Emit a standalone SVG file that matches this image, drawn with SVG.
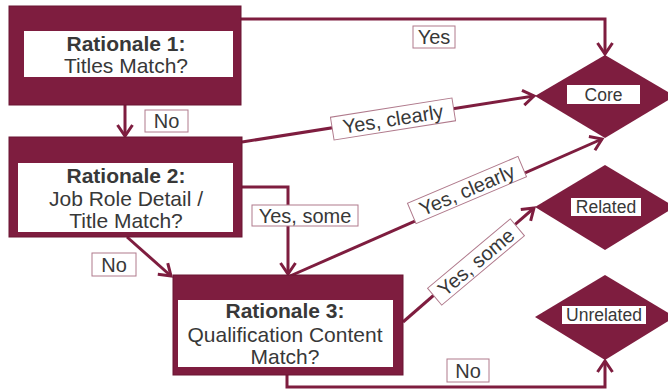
<svg xmlns="http://www.w3.org/2000/svg" width="668" height="391" viewBox="0 0 668 391">
<style>
.outer{fill:#7e1d3f;stroke:#6a1533;stroke-width:1}
.inner{fill:#ffffff}
.dia{fill:#7e1d3f}
.t{font-family:"Liberation Sans",Arial,sans-serif;fill:#383838;text-anchor:middle}
.b{font-weight:bold}
.node{font-size:21px}
.lbl{fill:#ffffff;stroke:#b07a8c;stroke-width:1}
.lt{font-size:20px}
.dt{font-size:17.5px}
.c{fill:none;stroke:#7e1d3f;stroke-width:3}
</style>
<defs>
<marker id="ah" markerUnits="userSpaceOnUse" viewBox="-12 -9 14 18" refX="0" refY="0" markerWidth="14" markerHeight="18" orient="auto" overflow="visible">
<path d="M-11,-7.5 L0,0 L-11,7.5" fill="none" stroke="#7e1d3f" stroke-width="3"/>
</marker>
</defs>
<rect width="668" height="391" fill="#ffffff"/>
<g id="connectors">
<polyline class="c" points="241,19 605,19 605,54" marker-end="url(#ah)"/>
<line class="c" x1="125" y1="105" x2="125" y2="136" marker-end="url(#ah)"/>
<line class="c" x1="242" y1="142" x2="534" y2="96" marker-end="url(#ah)"/>
<polyline class="c" points="242,187 288,187 288,274" marker-end="url(#ah)"/>
<line class="c" x1="127" y1="237" x2="171" y2="276" marker-end="url(#ah)"/>
<line class="c" x1="290" y1="276" x2="602" y2="139" marker-end="url(#ah)"/>
<line class="c" x1="403" y1="322" x2="534" y2="208" marker-end="url(#ah)"/>
<polyline class="c" points="287,375 287,387 605,387 605,361" marker-end="url(#ah)"/>
<g id="label-no1"><rect class="lbl" x="145" y="110" width="43" height="22"/><text class="t lt" x="166.5" y="128">No</text></g>
<g id="label-yes"><rect class="lbl" x="413" y="26" width="42" height="22"/><text class="t lt" x="434" y="44">Yes</text></g>
<g id="label-yessome1"><rect class="lbl" x="252" y="205" width="106" height="21"/><text class="t lt" x="305" y="222.5">Yes, some</text></g>
<g id="label-no2"><rect class="lbl" x="92" y="253" width="44" height="23"/><text class="t lt" x="114" y="271.5">No</text></g>
<g id="label-no3"><rect class="lbl" x="447" y="359" width="42" height="23"/><text class="t lt" x="468" y="377.5">No</text></g>
<g id="label-yesclearly1" transform="translate(393,119) rotate(-9)"><rect class="lbl" x="-61.5" y="-11.5" width="123" height="23"/><text class="t lt" x="0" y="7">Yes, clearly</text></g>
<g id="label-yesclearly2" transform="translate(467,190) rotate(-23)"><rect class="lbl" x="-60" y="-11" width="120" height="22"/><text class="t lt" x="0" y="7">Yes, clearly</text></g>
<g id="label-yessome2" transform="translate(476,262) rotate(-40)"><rect class="lbl" x="-54" y="-11" width="108" height="22"/><text class="t lt" x="0" y="7">Yes, some</text></g>
</g>
<g id="node-r1">
<rect class="outer" x="9" y="6" width="232" height="99"/>
<rect class="inner" x="24" y="31" width="209" height="46"/>
<text class="t node b" x="126" y="51">Rationale 1:</text>
<text class="t node" x="126" y="73">Titles Match?</text>
</g>
<g id="node-r2">
<rect class="outer" x="9" y="137" width="233" height="100"/>
<rect class="inner" x="18" y="163" width="215" height="69"/>
<text class="t node b" x="126" y="183">Rationale 2:</text>
<text class="t node" x="126" y="206">Job Role Detail /</text>
<text class="t node" x="126" y="228">Title Match?</text>
</g>
<g id="node-r3">
<rect class="outer" x="173" y="275" width="230" height="100"/>
<rect class="inner" x="178" y="300" width="215" height="67"/>
<text class="t node b" x="285" y="318">Rationale 3:</text>
<text class="t node" x="285" y="342">Qualification Content</text>
<text class="t node" x="285" y="364">Match?</text>
</g>
<g id="node-core">
<polygon class="dia" points="535,96 605,55 675,96 605,138"/>
<rect class="inner" x="567" y="85" width="73" height="19"/>
<text class="t dt" x="603.5" y="101">Core</text>
</g>
<g id="node-related">
<polygon class="dia" points="535,207 605,165 675,207 605,250"/>
<rect class="inner" x="571" y="198" width="70" height="18"/>
<text class="t dt" x="606" y="213">Related</text>
</g>
<g id="node-unrelated">
<polygon class="dia" points="535,317 605,275 675,317 605,360"/>
<rect class="inner" x="562" y="306" width="84" height="18"/>
<text class="t dt" x="604" y="321">Unrelated</text>
</g>
</svg>
